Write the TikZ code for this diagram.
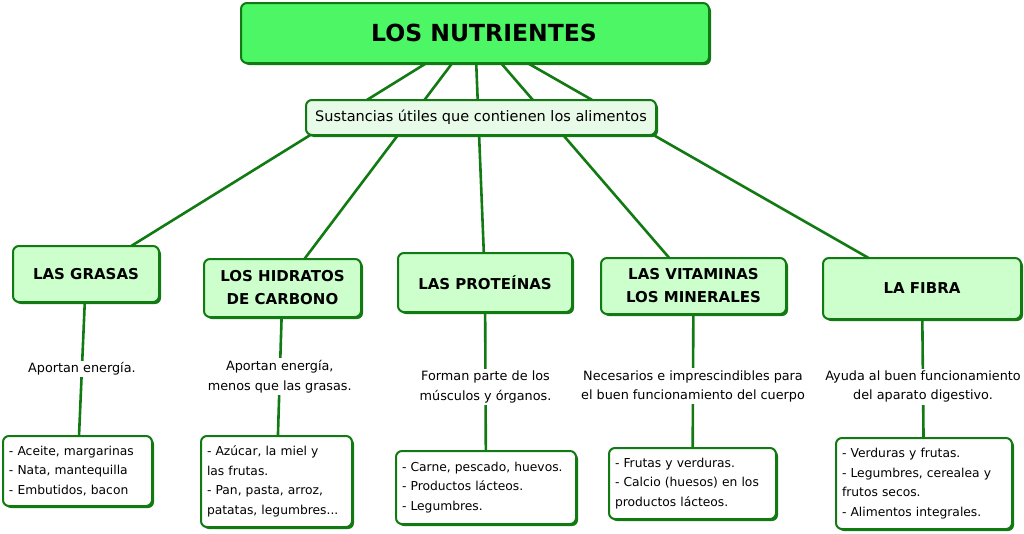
\documentclass[tikz,border=0pt]{standalone}
\usepackage{fontspec}
\setmainfont{DejaVu Sans}
\usepackage{xcolor}
\usepackage{tikz}
\usetikzlibrary{shadows}
\definecolor{borde}{RGB}{18,122,18}
\definecolor{verdetitulo}{RGB}{76,246,100}
\definecolor{verdetema}{RGB}{204,255,204}
\definecolor{verdesub}{RGB}{232,250,232}
\pgfdeclarelayer{background}
\pgfsetlayers{background,main}

\begin{document}
\begin{tikzpicture}[x=1pt,y=-1pt,
	caja/.style={draw=borde,line width=2pt,rounded corners=6pt,inner sep=2pt,
		drop shadow={shadow xshift=2pt,shadow yshift=-2pt,fill=borde,opacity=1}},
	titulobox/.style={caja,fill=verdetitulo,font=\fontsize{23.5}{28}\selectfont\bfseries},
	subbox/.style={caja,fill=verdesub,font=\fontsize{14.5}{17}\selectfont},
	temabox/.style={caja,fill=verdetema,align=center,font=\fontsize{15}{23}\selectfont\bfseries},
	listabox/.style={caja,fill=white,align=left,inner xsep=6pt,inner ysep=7pt,font=\fontsize{12.3}{19.5}\selectfont},
	etiqueta/.style={fill=white,align=center,inner sep=2pt,font=\fontsize{12.8}{19.5}\selectfont},
	enlace/.style={draw=borde,line width=2.6pt}]
					\useasboundingbox (0,0) rectangle (1024,533);
					\coordinate (ct) at (475,33);
					\coordinate (cs) at (481,117.5);
					\coordinate (c1) at (86,274);
					\coordinate (c2) at (282.5,288);
					\coordinate (c3) at (485,282.5);
					\coordinate (c4) at (693.5,286);
					\coordinate (c5) at (922,288.5);
					\coordinate (l1) at (77.5,471);
					\coordinate (l2) at (276.5,481.5);
					\coordinate (l3) at (486,487.5);
					\coordinate (l4) at (692.5,483.5);
					\coordinate (l5) at (924,483.5);
					
					\node (nutrientes) at (ct) [titulobox,minimum width=468,minimum height=60] {\hspace*{18pt}LOS NUTRIENTES};
					\node (sustancias) at (cs) [subbox,minimum width=350,minimum height=35] {Sustancias útiles que contienen los alimentos};
					
					\node (grasas) at (c1) [temabox,minimum width=146,minimum height=56] {LAS GRASAS};
					\node (hidratos) at (c2) [temabox,minimum width=157,minimum height=58] {LOS HIDRATOS\\DE CARBONO};
					\node (proteinas) at (c3) [temabox,minimum width=174,minimum height=59] {LAS PROTEÍNAS};
					\node (vitaminas) at (c4) [temabox,minimum width=185,minimum height=56] {LAS VITAMINAS\\LOS MINERALES};
					\node (fibra) at (c5) [temabox,minimum width=198,minimum height=61] {LA FIBRA};
					
					\node (lgrasas) at (l1) [listabox,text width=137,minimum height=70] {- Aceite, margarinas\\- Nata, mantequilla\\- Embutidos, bacon};
					\node (lhidratos) at (l2) [listabox,text width=139,minimum height=91] {- Azúcar, la miel y\\las frutas.\\- Pan, pasta, arroz,\\patatas, legumbres...};
					\node (lproteinas) at (l3) [listabox,text width=168,minimum height=73] {- Carne, pescado, huevos.\\- Productos lácteos.\\- Legumbres.};
					\node (lvitaminas) at (l4) [listabox,text width=155,minimum height=71] {- Frutas y verduras.\\- Calcio (huesos) en los\\productos lácteos.};
					\node (lfibra) at (l5) [listabox,text width=164,minimum height=91] {- Verduras y frutas.\\- Legumbres, cerealea y\\frutos secos.\\- Alimentos integrales.};
					
					\begin{pgfonlayer}{background}
					\draw[enlace] (nutrientes.center) to[] (grasas.center);
					\draw[enlace] (nutrientes.center) to[] (hidratos.center);
					\draw[enlace] (nutrientes.center) to[] (proteinas.center);
					\draw[enlace] (nutrientes.center) to[] (vitaminas.center);
					\draw[enlace] (nutrientes.center) to[] (fibra.center);
					\end{pgfonlayer}
					
					\draw[enlace] (grasas) to node[etiqueta] {Aportan energía.} (lgrasas);
					\draw[enlace] (hidratos) to node[etiqueta] {Aportan energía,\\menos que las grasas.} (lhidratos);
					\draw[enlace] (proteinas) to node[etiqueta,pos=0.54] {Forman parte de los\\músculos y órganos.} (lproteinas);
					\draw[enlace] (vitaminas) to node[etiqueta,pos=0.54] {Necesarios e imprescindibles para\\el buen funcionamiento del cuerpo} (lvitaminas);
					\draw[enlace] (fibra) to node[etiqueta,pos=0.57] {Ayuda al buen funcionamiento\\del aparato digestivo.} (lfibra);
				\end{tikzpicture}
\end{document}
